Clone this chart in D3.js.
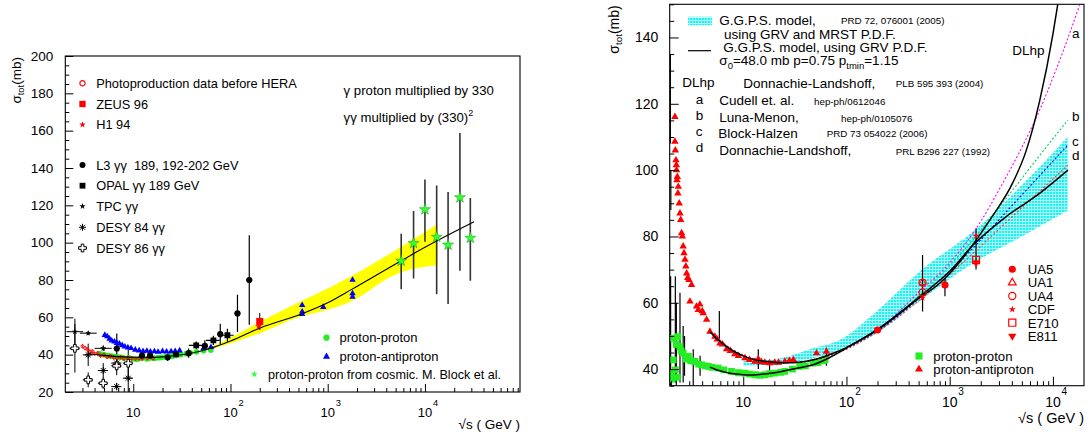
<!DOCTYPE html>
<html><head><meta charset="utf-8">
<script src="https://cdn.jsdelivr.net/npm/d3@7"></script>
<style>
body{margin:0;background:#fff}
svg{display:block}
text{font-family:"Liberation Sans",Arial,Helvetica,sans-serif;white-space:pre}
</style>
</head><body>
<svg id="c" width="1089" height="433"></svg>
<script>
// ================= LEFT PANEL DATA =================
const leftYTicks = [20,40,60,80,100,120,140,160,180,200];
const leftXTicks = [10,100,1000,10000];

// photoproduction before HERA (red open circles)
const photoX = [3.0,3.2,3.4,3.6,3.8,4.0,4.3,4.6,5.0,5.4,5.8,6.3,6.8,7.4,8.0,8.8,9.6,10.5,11.5,12.5,14,16];
const photoY = [44.5,43.5,42.8,41.5,41.8,40.5,40.8,39.5,39.8,38.8,39.2,38.5,38.2,38.6,37.9,38.3,38.0,37.8,38.1,37.9,38.2,38.0];
// ZEUS 96, H1 94  [x, y, err]
const zeusPt = [200, 57.8, 4.5];
const h1Pt = [195, 55.2, 2.5];
// L3
const l3X = [6.77,12.3,14.9,22.6,37.1,54.5,78.5,118,156];
const l3Y = [43.3,39.5,39.5,38.6,40.8,44.7,51.0,62.1,80.0];
const l3Err = [8,2,2.5,2,2.5,3,5.5,10,24];
// OPAL
const opalX = [27.5,44.4,66.7,93];
const opalY = [40.2,45.0,47.7,50.4];
const opalErr = [1.5,2,2.5,3.5];
// TPC
const tpcX = [2.51,3.44,4.91];
const tpcY = [52.3,51.5,43.4];
const tpcXlo = [2.06,2.83,4.0];
const tpcXhi = [3.06,4.2,6.0];
const tpcErr = [7,1,1.5];
// DESY 84
const desy84X = [3.44,4.91,6.75,6.75,8.88];
const desy84Y = [39.9,31.5,35.5,22.9,27.4];
const desy84Err = [6,4,4,2,10];
// DESY 86
const desy86X = [2.51,3.44,4.91,6.75,8.88];
const desy86Y = [43.4,26.5,24.7,34.0,35.4];
const desy86Err = [13,4,3,5,8];
// proton-proton (green circles)
const ppLX = [4.5,5,5.5,6,6.5,7,7.5,8,9,10,11,12,13.8,15,16.5,18,19.4,21.5,23.5,25,27.4,30.6,35,38.5,44.7,52.8,62.7];
const ppLY = [40.5,40,39.5,39.2,39,38.7,38.6,38.2,38.3,37.8,37.6,38.1,37.8,38.3,38.1,38.4,38.5,38.8,39,39.2,39.5,40,40.5,41,41.5,42.2,42.5];
// proton-antiproton (blue triangles)
const pbarLX = [5.1,5.4,5.7,6.0,6.4,6.8,7.2,7.7,8.2,8.8,9.5,10.5,11.5,12.6,13.8,15,16.5,18,20,22,24.5,27,30,53,63,546,546,546,900,1800,1800,1800];
const pbarLY = [50.5,49.8,48.5,47.5,47,46.2,45.8,45,44.3,43.8,43.5,42.6,42.2,41.8,42,41.6,41.7,41.5,41.8,41.6,41.7,41.9,42.2,43.5,44,66.5,63,61.7,65.5,80,72.8,71];
// cosmic rays (green stars)
const cosX = [5700,7640,10000,13200,17300,22900,29300];
const cosY = [90.2,99.7,117.8,103.0,98.8,124.2,102.5];
const cosLo = [75.1,80.8,100.5,72.4,67.1,84.9,79.6];
const cosHi = [104.8,116.9,133.8,130.6,127.2,158.7,123.9];
// fit line and yellow band
const fitX = [3.5,5,8,10,15,20,30,50,70,100,200,525,1000,1730,5650,10000,32000];
const fitY = [40.5,39.6,38.8,38.6,38.5,38.8,39.8,42,44.3,47.3,54.2,61.6,67.8,74.7,90.2,97.5,111.2];
const bandLX = [60,100,200,500,1000,1730,5000,13500];
const bandLUp = [43.5,49,57.5,68,75.5,82,96,110];
const bandLLo = [42.5,46,51.5,60,64,68.5,83,88];

// ================= RIGHT PANEL DATA =================
const rightYTicks = [40,60,80,100,120,140];
const rightXTicks = [10,100,1000,10000];
// proton-antiproton (red triangles)
const pbarRX = [2.18,2.18,2.2,2.23,2.25,2.26,2.28,2.3,2.33,2.35,2.4,2.44,2.48,2.53,2.57,2.62,2.67,2.73,2.78,2.83,2.9,2.98,3.05,3.16,3.53,3.67,3.8,4.0,4.1,4.42,4.76,5.32,5.6,5.95,6.3,6.9,7.5,8.3,9,10.4,11.5,13,14,15,16.2,18,20.2,22,25.3,28,30.6,51.3,64];
const pbarRY = [116.1,108.6,106,103,101.5,100,97,98,93,95,90,87,85,81,80,77,75,73,71,68.9,67.5,66.9,60.4,65.4,58.9,57.9,59.5,57.5,56.9,54.9,51.3,49.8,49,47.8,47.5,46,45.5,44.5,44,43.3,42.8,42.3,43,42.2,42,41.8,42,42,42.3,42.5,42.8,44.8,45.3];
// proton-proton (green squares)
const ppRX = [2.0,2.05,2.1,2.1,2.2,2.25,2.3,2.33,2.44,2.5,2.62,2.8,2.94,3.1,3.4,3.7,3.95,4.3,4.6,5.0,5.73,6.5,7.7,9,10.4,11.5,13,14.5,16.2,18,20.2,23,25.3,30,35.3,40,47.6,53,59.4,62];
const ppRY = [38.8,37,49.3,42.8,39.8,47.5,37.5,49.8,46.8,45.5,44.8,43,43.8,42.5,42.3,41.5,41.3,41,40.8,40.5,40.3,39.8,39.3,38.9,38.8,38.5,38.3,38.1,38.3,38.6,38.8,39,39.3,40,40.8,41,41.8,42,42.6,42.8];
// black error bars [x, low, high]
const errR = [[1.97,108,135],[1.98,35,68],[1.99,88,100],[2.2,36,68],[2.25,35,60],[2.44,36,63],[2.62,36,53],[2.7,38,50],[3.28,35,46],[3.82,38,44],[5.87,49,57.5],[14,40,46],[18,38,41.5],[64,41,46.5],[546,57.4,74.4],[900,62,67.5],[1800,70,82.5]];
// high-energy experiments
const ua5 = [[200,51.8],[900,65.4]];
const ua1 = [[546,66.1]];
const ua4 = [[546,66.1],[546,63.1]];
const cdf = [[546,61.5],[1800,80.2]];
const e710 = [[1800,72.9]];
const e811 = [[1800,72.1]];
// cyan band GGPS (GRV and MRST)
const bandRX = [10,20,47.6,86,195,532,1683,5000,13960];
const bandRUp = [42.5,43,46.3,48.8,57.4,69.9,81.5,95.5,110.1];
const bandRLo = [41,41.5,43.3,45.8,50.8,60.9,71.9,80,87.8];
// GGPS black curves
const ggpsPbarX = [4.76,5.5,6.9,8.5,10,13,16.8,21,26,35,47.6,70,100,195,532,1000,1683,3530,7430,13960];
const ggpsPbarY = [51.3,49.3,46.8,45,44,42.8,42.3,42,41.9,42.1,42.8,44.5,46.5,51.8,62.3,69.5,77.4,86,93,100];
const ggpsPpX = [4.76,5.5,6.9,8.5,10,12,16.8,21,26,35,47.6,70,100];
const ggpsPpY = [40.6,39.8,39,38.5,38.3,38.2,38.6,39,39.6,40.4,41.3,43.6,46.3];
// DLhp
const dlhpX = [100,195,532,800,1250,1683,2500,4100,5500,7430,10000,11170];
const dlhpY = [46.5,51.6,61.9,65.9,72.3,77.6,85.4,96.3,105.8,120.8,141,150.2];
// dotted model curves a,b,c,d
const curveAX = [5,7,10,15,30,100,195,532,800,1683,3530,7430,14500,18100];
const curveAY = [50.5,46.5,44,42.5,42,46.3,51.5,63.9,68.9,81,98,118.1,141.2,149.7];
const curveBX = [5,7,10,15,30,100,195,532,1683,3530,7430,13960];
const curveBY = [50.5,46.5,44,42.5,42,46.3,51.5,62.8,79,91.5,104.4,115.1];
const curveCX = [5,7,10,15,30,100,195,532,1683,3530,7430,13960];
const curveCY = [50.8,46.7,44.1,42.6,42,46.2,51.2,62,76.5,87.4,98.3,107.6];
const curveDX = [5,7,10,15,30,100,195,532,1683,3530,7430,13960];
const curveDY = [51,47,44.2,42.7,42.1,46,51,61.3,74.9,84.3,93.6,101.5];

// ================= DRAWING =================
const svg = d3.select("#c");
const defs = svg.append("defs");
const pat = defs.append("pattern").attr("id","hatch").attr("patternUnits","userSpaceOnUse").attr("width",3).attr("height",3);
pat.append("rect").attr("width",3).attr("height",3).attr("fill","#22f0f0");
pat.append("rect").attr("y",2).attr("width",3).attr("height",1).attr("fill","#bffcfc");
pat.append("rect").attr("x",2).attr("width",1).attr("height",2).attr("fill","#80f6f6");

const FONT = '"Liberation Sans",Arial,Helvetica,sans-serif';

function minorLog(domain){
  const out=[];
  for(let e=0;e<6;e++){for(let m=2;m<=9;m++){const v=m*Math.pow(10,e); if(v>domain[0]&&v<domain[1]) out.push(v);}}
  return out;
}
function minorLin(domain, step, majors){
  const out=[];
  for(let v=Math.ceil(domain[0]/step)*step; v<=domain[1]+1e-9; v+=step){ if(!majors.includes(Math.round(v*100)/100)) out.push(v);}
  return out;
}

function drawAxes(g, x, y, opt){
  const [x0,x1]=x.range(), [yb,yt]=y.range();
  const ya = g.append("g").attr("transform",`translate(${x0},0)`)
    .call(d3.axisLeft(y).tickValues(opt.yTicks).tickSizeInner(-opt.major).tickSizeOuter(0).tickPadding(opt.yPad).tickFormat(d3.format("d")));
  ya.attr("font-family",FONT).attr("font-size",opt.yFont);
  ya.select(".domain").remove();
  const ym = g.append("g").attr("transform",`translate(${x0},0)`)
    .call(d3.axisLeft(y).tickValues(minorLin(y.domain(),opt.yMinor,opt.yTicks)).tickSizeInner(-opt.minor).tickSizeOuter(0).tickFormat(""));
  ym.select(".domain").remove();
  const xa = g.append("g").attr("transform",`translate(0,${yb})`)
    .call(d3.axisBottom(x).tickValues(opt.xTicks).tickSizeInner(-opt.major).tickSizeOuter(0).tickFormat(""));
  xa.select(".domain").remove();
  const xm = g.append("g").attr("transform",`translate(0,${yb})`)
    .call(d3.axisBottom(x).tickValues(minorLog(x.domain())).tickSizeInner(-opt.minor).tickSizeOuter(0).tickFormat(""));
  xm.select(".domain").remove();
  opt.xTicks.forEach((v,i)=>{
    g.append("text").attr("x",x(v)).attr("y",opt.xLabY).attr("text-anchor","middle").attr("font-size",opt.xFont).text("10");
    if(i>0){
      g.append("text").attr("x",x(v)+opt.xFont*0.62).attr("y",opt.xLabY-opt.xFont*0.82).attr("font-size",opt.xFont*0.72).text(String(Math.round(Math.log10(v))));
    }
  });
  g.append("rect").attr("x",x0).attr("y",yt).attr("width",x1-x0).attr("height",yb-yt)
    .attr("fill","none").attr("stroke","#000").attr("stroke-width",1.1);
  g.append("text").attr("x",x1).attr("y",opt.xTitleY).attr("text-anchor","end").attr("font-size",opt.xTitleFont).text("√s ( GeV )");
  const yt2 = g.append("text").attr("transform",`translate(${opt.yTitleX},${yt+1}) rotate(-90)`).attr("text-anchor","end").attr("font-size",opt.yTitleFont);
  yt2.append("tspan").text("σ");
  yt2.append("tspan").attr("font-size",opt.yTitleFont*0.7).attr("dy",opt.yTitleFont*0.25).text("tot");
  yt2.append("tspan").attr("dy",-opt.yTitleFont*0.25).text("(mb)");
}

function asteriskPath(r){
  const d=r*0.707;
  return `M${-r},0L${r},0M0,${-r}L0,${r}M${-d},${-d}L${d},${d}M${-d},${d}L${d},${-d}`;
}
function marker(g, type, cx, cy, size, fill, stroke, sw){
  let p;
  if(type==="asterisk"){
    p = g.append("path").attr("d",asteriskPath(size)).attr("stroke",stroke).attr("stroke-width",sw||1).attr("fill","none");
  } else if(type==="invtri"){
    return g.append("path").attr("d",d3.symbol().type(d3.symbolTriangle).size(size)()).attr("transform",`translate(${cx},${cy}) rotate(180)`).attr("fill",fill).attr("stroke",stroke||"none").attr("stroke-width",sw||1);
  } else {
    const map={circle:d3.symbolCircle,square:d3.symbolSquare,triangle:d3.symbolTriangle,star:d3.symbolStar,cross:d3.symbolCross,diamond:d3.symbolDiamond};
    p = g.append("path").attr("d",d3.symbol().type(map[type]).size(size)()).attr("fill",fill).attr("stroke",stroke||"none").attr("stroke-width",sw||1);
  }
  p.attr("transform",`translate(${cx},${cy})`);
  return p;
}
function vbar(g,x,y,xv,lo,hi,col,w){
  g.append("line").attr("x1",x(xv)).attr("x2",x(xv)).attr("y1",y(lo)).attr("y2",y(hi)).attr("stroke",col||"#000").attr("stroke-width",w||1.2);
}
function hbar(g,x,y,lo,hi,yv,col,w){
  g.append("line").attr("x1",x(lo)).attr("x2",x(hi)).attr("y1",y(yv)).attr("y2",y(yv)).attr("stroke",col||"#000").attr("stroke-width",w||1.2);
}

// ---------- LEFT ----------
const xL = d3.scaleLog().domain([2,95000]).range([65.3,520]);
const yL = d3.scaleLinear().domain([20,200]).range([392,56]);
const gL = svg.append("g");
defs.append("clipPath").attr("id","clipL").append("rect").attr("x",65.3).attr("y",56).attr("width",454.7).attr("height",336);
const pL = gL.append("g").attr("clip-path","url(#clipL)");

pL.append("path").datum(bandLX.map((v,i)=>[v,bandLUp[i],bandLLo[i]]))
  .attr("d",d3.area().x(d=>xL(d[0])).y0(d=>yL(d[2])).y1(d=>yL(d[1])).curve(d3.curveMonotoneX))
  .attr("fill","#ffff00");
cosX.forEach((v,i)=>vbar(pL,xL,yL,v,cosLo[i],cosHi[i],"#333",1.6));
tpcX.forEach((v,i)=>{hbar(pL,xL,yL,tpcXlo[i],tpcXhi[i],tpcY[i],"#000",1); vbar(pL,xL,yL,v,tpcY[i]-tpcErr[i],tpcY[i]+tpcErr[i],"#000",1);});
desy84X.forEach((v,i)=>{vbar(pL,xL,yL,v,desy84Y[i]-desy84Err[i],desy84Y[i]+desy84Err[i],"#000",1); hbar(pL,xL,yL,v*0.88,v*1.12,desy84Y[i],"#000",1);});
desy86X.forEach((v,i)=>{vbar(pL,xL,yL,v,desy86Y[i]-desy86Err[i],desy86Y[i]+desy86Err[i],"#000",1); hbar(pL,xL,yL,v*0.88,v*1.12,desy86Y[i],"#000",1);});
l3X.forEach((v,i)=>{vbar(pL,xL,yL,v,l3Y[i]-l3Err[i],l3Y[i]+l3Err[i],"#000",1.2); hbar(pL,xL,yL,v*0.93,v*1.07,l3Y[i],"#000",1.2);});
opalX.forEach((v,i)=>{vbar(pL,xL,yL,v,opalY[i]-opalErr[i],opalY[i]+opalErr[i],"#000",1.2); hbar(pL,xL,yL,v*0.84,v*1.16,opalY[i],"#000",1.2);});
vbar(pL,xL,yL,zeusPt[0],zeusPt[1]-zeusPt[2],zeusPt[1]+zeusPt[2],"#000",1);
ppLX.forEach((v,i)=>marker(pL,"circle",xL(v),yL(ppLY[i]),26,"#22ee22"));
photoX.forEach((v,i)=>{vbar(pL,xL,yL,v,photoY[i]-1.2,photoY[i]+1.2,"#ff0000",0.8); marker(pL,"circle",xL(v),yL(photoY[i]),7,"none","#ff0000",0.9);});
pbarLX.forEach((v,i)=>marker(pL,"triangle",xL(v),yL(pbarLY[i]),18,"#0000ff"));
pL.append("path").datum(fitX.map((v,i)=>[v,fitY[i]]))
  .attr("d",d3.line().x(d=>xL(d[0])).y(d=>yL(d[1])).curve(d3.curveMonotoneX))
  .attr("fill","none").attr("stroke","#000").attr("stroke-width",1.1);
tpcX.forEach((v,i)=>marker(pL,"star",xL(v),yL(tpcY[i]),12,"#000"));
desy84X.forEach((v,i)=>marker(pL,"asterisk",xL(v),yL(desy84Y[i]),3.5,"none","#000",1));
desy86X.forEach((v,i)=>marker(pL,"cross",xL(v),yL(desy86Y[i]),34,"#fff","#000",1));
l3X.forEach((v,i)=>marker(pL,"circle",xL(v),yL(l3Y[i]),30,"#000"));
opalX.forEach((v,i)=>marker(pL,"square",xL(v),yL(opalY[i]),34,"#000"));
marker(pL,"square",xL(zeusPt[0]),yL(zeusPt[1]),50,"#ff0000");
marker(pL,"star",xL(h1Pt[0]),yL(h1Pt[1]),16,"#ff0000");
cosX.forEach((v,i)=>marker(pL,"star",xL(v),yL(cosY[i]),38,"#33ff33","#22aa22",0.6));

drawAxes(gL,xL,yL,{yTicks:leftYTicks,xTicks:leftXTicks,major:8,minor:4,yMinor:5,yPad:12,yFont:13.5,xFont:13,xLabY:416.5,xTitleY:428.5,xTitleFont:13.5,yTitleX:20.5,yTitleFont:13.5});

const legL = [
  {t:"circle",s:22,f:"none",st:"#ff0000",w:1.2,y:83.3,txt:"Photoproduction data before HERA"},
  {t:"square",s:40,f:"#ff0000",y:104,txt:"ZEUS 96"},
  {t:"star",s:14,f:"#ff0000",y:124.7,txt:"H1 94"},
  {t:"circle",s:28,f:"#000",y:165,txt:"L3 γγ  189, 192-202 GeV"},
  {t:"square",s:34,f:"#000",y:185.7,txt:"OPAL γγ 189 GeV"},
  {t:"star",s:12,f:"#000",y:206.3,txt:"TPC γγ"},
  {t:"asterisk",s:3.5,f:"none",st:"#000",w:1,y:227.3,txt:"DESY 84 γγ"},
  {t:"cross",s:34,f:"#fff",st:"#000",w:1,y:248,txt:"DESY 86 γγ"}
];
legL.forEach(d=>{
  marker(gL,d.t,82.5,d.y,d.s,d.f,d.st,d.w);
  gL.append("text").attr("x",96.2).attr("y",d.y+4.6).attr("font-size",12.8).text(d.txt);
});
gL.append("text").attr("x",343.6).attr("y",94.8).attr("font-size",13.2).text("γ proton multiplied by 330");
const tmul = gL.append("text").attr("x",343.6).attr("y",122.3).attr("font-size",13.2);
tmul.append("tspan").text("γγ multiplied by (330)");
tmul.append("tspan").attr("dy",-6).attr("font-size",9).text("2");
marker(gL,"circle",326.5,337.7,30,"#22ee22");
gL.append("text").attr("x",339.5).attr("y",342.3).attr("font-size",13).text("proton-proton");
marker(gL,"triangle",326.5,356.7,22,"#0000ff");
gL.append("text").attr("x",339.5).attr("y",361.3).attr("font-size",13).text("proton-antiproton");
marker(gL,"star",254.3,374.3,16,"#33ff33");
gL.append("text").attr("x",268).attr("y",378.8).attr("font-size",12.6).text("proton-proton from cosmic. M. Block et al.");

// ---------- RIGHT ----------
const xR = d3.scaleLog().domain([1.94,20000]).range([669.7,1084]);
const yR = d3.scaleLinear().domain([35,150]).range([385.7,4.3]);
const gR = svg.append("g");
defs.append("clipPath").attr("id","clipR").append("rect").attr("x",669.7).attr("y",4.3).attr("width",414.3).attr("height",381.4);
const pR = gR.append("g").attr("clip-path","url(#clipR)");

pR.append("path").datum(bandRX.map((v,i)=>[v,bandRUp[i],bandRLo[i]]))
  .attr("d",d3.area().x(d=>xR(d[0])).y0(d=>yR(d[2])).y1(d=>yR(d[1])).curve(d3.curveMonotoneX))
  .attr("fill","url(#hatch)");
errR.forEach(e=>vbar(pR,xR,yR,e[0],e[1],e[2],"#000",1.2));
ppRX.forEach((v,i)=>marker(pR,"square",xR(v),yR(ppRY[i]),46,"#22ee22"));
pbarRX.forEach((v,i)=>marker(pR,"triangle",xR(v),yR(pbarRY[i]),24,"#ff0000"));

const lineR = d3.line().x(d=>xR(d[0])).y(d=>yR(d[1])).curve(d3.curveMonotoneX);
const dotted = [[curveAX,curveAY,"#ff00ff"],[curveBX,curveBY,"#00cc66"],[curveCX,curveCY,"#0000ff"],[curveDX,curveDY,"#ff3333"]];
dotted.forEach(c=>{
  pR.append("path").datum(c[0].map((v,i)=>[v,c[1][i]])).attr("d",lineR)
    .attr("fill","none").attr("stroke",c[2]).attr("stroke-width",1.1).attr("stroke-dasharray","2,2");
});
[[ggpsPbarX,ggpsPbarY],[ggpsPpX,ggpsPpY],[dlhpX,dlhpY]].forEach(c=>{
  pR.append("path").datum(c[0].map((v,i)=>[v,c[1][i]])).attr("d",lineR)
    .attr("fill","none").attr("stroke","#000").attr("stroke-width",1.5);
});
ua5.forEach(p=>marker(pR,"circle",xR(p[0]),yR(p[1]),40,"#ff0000"));
ua4.forEach(p=>marker(pR,"circle",xR(p[0]),yR(p[1]),40,"none","#ff0000",1.2));
ua1.forEach(p=>marker(pR,"triangle",xR(p[0]),yR(p[1]),22,"none","#ff0000",1));
cdf.forEach(p=>marker(pR,"star",xR(p[0]),yR(p[1]),14,"#ff0000"));
e710.forEach(p=>marker(pR,"square",xR(p[0]),yR(p[1]),50,"none","#ff0000",1.2));
e811.forEach(p=>marker(pR,"invtri",xR(p[0]),yR(p[1]),28,"#ff0000"));

drawAxes(gR,xR,yR,{yTicks:rightYTicks,xTicks:rightXTicks,major:9,minor:4.5,yMinor:5,yPad:11.4,yFont:14,xFont:14,xLabY:406.7,xTitleY:422.5,xTitleFont:14.5,yTitleX:618.5,yTitleFont:14});

gR.append("rect").attr("x",688).attr("y",16.7).attr("width",24).attr("height",8.5).attr("fill","url(#hatch)");
gR.append("line").attr("x1",688).attr("x2",711).attr("y1",50.7).attr("y2",50.7).attr("stroke","#000").attr("stroke-width",1.2);
const big=13.5, small=9.8;
const legR = [
  [719.3,25.3,big,"G.G.P.S. model,"],[841,24.3,small,"PRD 72, 076001 (2005)"],
  [724,38.6,big,"using GRV and MRST P.D.F."],
  [723.3,51.8,big,"G.G.P.S. model, using GRV P.D.F."],
  [682.3,86.7,big,"DLhp"],[743.3,87.7,big,"Donnachie-Landshoff,"],[895.7,87.3,small,"PLB 595 393 (2004)"],
  [695.7,104.3,big,"a"],[719.3,104.8,big,"Cudell et. al."],[814,104.5,small,"hep-ph/0612046"],
  [695.7,119.5,big,"b"],[719.3,121.5,big,"Luna-Menon,"],[841,121.7,small,"hep-ph/0105076"],
  [695.7,136.3,big,"c"],[718.3,137.7,big,"Block-Halzen"],[826.7,137.3,small,"PRD 73 054022 (2006)"],
  [695.7,151.8,big,"d"],[719.3,154.8,big,"Donnachie-Landshoff,"],[895.7,154.7,small,"PRL B296 227 (1992)"],
  [1012.3,54.5,big,"DLhp"],[1072,37.5,big,"a"],[1072,120.8,big,"b"],[1072,145.8,big,"c"],[1072,160.2,big,"d"]
];
legR.forEach(d=>gR.append("text").attr("x",d[0]).attr("y",d[1]).attr("font-size",d[2]).text(d[3]));
const sig = gR.append("text").attr("x",719.3).attr("y",65.3).attr("font-size",big);
sig.append("tspan").text("σ");
sig.append("tspan").attr("dy",4).attr("font-size",9.5).text("0");
sig.append("tspan").attr("dy",-4).text("=48.0 mb p=0.75 p");
sig.append("tspan").attr("dy",4).attr("font-size",9.5).text("tmin");
sig.append("tspan").attr("dy",-4).text("=1.15");

const expLeg = [
  ["circle",40,"#ff0000",null,"UA5"],["triangle",26,"none","#ff0000","UA1"],["circle",40,"none","#ff0000","UA4"],
  ["star",16,"#ff0000",null,"CDF"],["square",50,"none","#ff0000","E710"],["invtri",30,"#ff0000",null,"E811"]
];
expLeg.forEach((d,i)=>{
  const yy = 269.3 + i*13.35;
  marker(gR,d[0],1012.3,yy,d[1],d[2],d[3],1.2);
  gR.append("text").attr("x",1027.7).attr("y",yy+4.8).attr("font-size",13.2).text(d[4]);
});
marker(gR,"square",919,356,50,"#22ee22");
gR.append("text").attr("x",933.3).attr("y",360.8).attr("font-size",13.2).text("proton-proton");
marker(gR,"triangle",919,369.3,28,"#ff0000");
gR.append("text").attr("x",933.3).attr("y",374.3).attr("font-size",13.2).text("proton-antiproton");
</script>
</body></html>
